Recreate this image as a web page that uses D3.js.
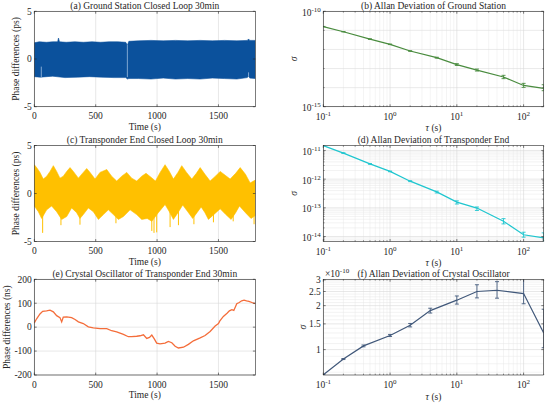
<!DOCTYPE html>
<html><head><meta charset="utf-8">
<script src="https://cdn.jsdelivr.net/npm/d3@7"></script>
<style>
body{margin:0;background:#fff}
svg text{font-family:"Liberation Serif","DejaVu Serif",serif;fill:#262626}
</style>
</head><body>
<svg id="chart" width="550" height="406" font-family="Liberation Serif, DejaVu Serif, serif"></svg>
<script>
// ---------------- DATA ----------------
const timeTicks = [0, 500, 1000, 1500];
const psTicks = [-5, 0, 5];
const nsTicks = [-200, -100, 0, 100, 200];
const tauTicks = [0.1, 1, 10, 100];

// (a) ground station closed loop: envelope of the dense phase record (ps)
const aUpperT = [0, 40, 100, 150, 190, 197, 205, 260, 330, 400, 470, 540, 610, 680, 745, 758, 770, 850, 950, 1050, 1150, 1250, 1350, 1450, 1550, 1650, 1735, 1745, 1755, 1800];
const aUpperV = [1.7, 1.8, 1.75, 1.8, 1.8, 2.2, 1.8, 1.75, 1.8, 1.75, 1.8, 1.75, 1.8, 1.8, 1.75, 1.45, 1.85, 1.9, 1.95, 1.9, 1.95, 1.9, 1.95, 1.9, 1.95, 1.9, 1.95, 2.1, 1.95, 1.95];
const aLowerT = [0, 50, 150, 250, 350, 450, 550, 650, 745, 758, 770, 850, 950, 1050, 1150, 1250, 1350, 1450, 1550, 1650, 1735, 1745, 1755, 1800];
const aLowerV = [-1.85, -1.9, -1.8, -1.95, -1.9, -1.85, -1.9, -1.95, -1.95, -2.1, -2.05, -2.05, -2.1, -2.0, -2.1, -2.05, -2.1, -2.0, -2.05, -2.1, -1.95, -1.75, -2.0, -2.05];
const aStreakT = [57, 758, 1745];
const aStreakLo = [-1.9, -1.9, -1.8];
const aStreakHi = [-0.8, 1.5, -1.4];

// (c) transponder end closed loop: envelope (ps)
const cUpperT = [0, 19, 46, 73, 101, 128, 155, 182, 209, 236, 264, 291, 318, 359, 399, 427, 454, 495, 535, 590, 630, 671, 712, 753, 793, 834, 875, 910, 950, 987, 1025, 1065, 1100, 1133, 1170, 1201, 1240, 1283, 1320, 1351, 1390, 1432, 1475, 1514, 1555, 1595, 1640, 1677, 1720, 1758, 1800];
const cUpperV = [3.0, 2.7, 2.2, 1.5, 1.8, 2.3, 2.9, 2.3, 1.6, 1.8, 2.3, 2.7, 2.3, 1.6, 2.2, 2.6, 2.2, 1.5, 2.2, 2.5, 1.8, 1.3, 1.8, 2.2, 1.6, 1.3, 1.8, 2.1, 1.7, 1.3, 2.2, 3.0, 2.3, 1.5, 2.2, 2.9, 2.2, 1.5, 2.1, 2.7, 2.0, 1.3, 1.8, 2.3, 1.9, 1.5, 2.1, 2.7, 2.0, 1.1, 1.4];
const cLowerT = [0, 33, 60, 101, 141, 182, 223, 264, 304, 345, 372, 399, 440, 481, 522, 563, 603, 644, 685, 726, 780, 834, 875, 920, 957, 1010, 1065, 1100, 1133, 1170, 1209, 1250, 1290, 1325, 1359, 1390, 1418, 1470, 1514, 1560, 1603, 1640, 1671, 1720, 1765, 1800];
const cLowerV = [-1.3, -1.9, -2.6, -1.7, -1.3, -1.9, -2.7, -2.4, -1.5, -2.0, -2.6, -2.2, -1.5, -1.9, -2.7, -2.2, -1.7, -2.2, -2.7, -2.4, -1.7, -2.2, -2.7, -2.6, -2.9, -2.0, -1.15, -1.9, -2.7, -2.0, -1.2, -1.9, -2.6, -2.0, -1.4, -2.0, -2.7, -2.1, -1.6, -2.2, -2.7, -2.0, -1.3, -2.0, -2.6, -2.3];
const cSpikeT = [68, 217, 372, 665, 957, 975, 997, 1106, 1174, 1300, 1459, 1620, 1790];
const cSpikeV = [-4.1, -3.3, -3.25, -3.1, -3.9, -4.1, -4.05, -3.5, -3.3, -3.2, -3.0, -2.9, -3.2];

// (e) crystal oscillator phase (ns)
const eTime = [0, 19, 46, 68, 100, 128, 155, 182, 209, 223, 236, 264, 304, 332, 359, 399, 440, 481, 535, 590, 630, 671, 726, 766, 793, 834, 861, 889, 916, 938, 957, 976, 997, 1024, 1065, 1092, 1120, 1147, 1174, 1215, 1255, 1296, 1351, 1391, 1432, 1473, 1500, 1510, 1540, 1570, 1589, 1609, 1625, 1649, 1669, 1689, 1709, 1729, 1748, 1778, 1800];
const eValue = [18, 35, 55, 66, 68, 71, 64, 48, 40, 22, 42, 43, 40, 32, 22, 15, 1, -3, -6, -6, -15, -20, -30, -40, -40, -38, -36, -32, -47, -43, -33, -48, -67, -70, -67, -60, -65, -80, -87, -84, -72, -57, -45, -35, -18, 5, 15, 25, 45, 58, 68, 73, 70, 98, 103, 110, 113, 110, 108, 102, 98];

// (b) Allan deviation, ground station
const tauB = [0.1, 0.2, 0.5, 1, 2, 5, 10, 20, 50, 100, 200];
const sigmaB = [1.58e-11, 8.5e-12, 3.5e-12, 1.86e-12, 8.3e-13, 3.7e-13, 1.6e-13, 8.3e-14, 3.6e-14, 1.3e-14, 9.1e-15];
const sigmaBLo = [1.55e-11, 8.3e-12, 3.4e-12, 1.8e-12, 8.0e-13, 3.5e-13, 1.45e-13, 7.4e-14, 2.95e-14, 1.03e-14, 6.9e-15];
const sigmaBHi = [1.61e-11, 8.7e-12, 3.6e-12, 1.92e-12, 8.6e-13, 3.9e-13, 1.8e-13, 9.4e-14, 4.4e-14, 1.67e-14, 1.42e-14];
const bYTicks = [1e-15, 1e-10];
const bYDecades = [1e-14, 1e-13, 1e-12, 1e-11];

// (d) Allan deviation, transponder end
const tauD = [0.1, 0.2, 0.5, 1, 2, 5, 10, 20, 50, 100, 200];
const sigmaD = [1.48e-11, 8.1e-12, 3.4e-12, 1.86e-12, 8.5e-13, 3.6e-13, 1.58e-13, 9.8e-14, 3.4e-14, 1.15e-14, 8.9e-15];
const sigmaDLo = [1.45e-11, 7.9e-12, 3.3e-12, 1.81e-12, 8.2e-13, 3.3e-13, 1.36e-13, 8.1e-14, 2.75e-14, 9.5e-15, 6.0e-15];
const sigmaDHi = [1.51e-11, 8.3e-12, 3.5e-12, 1.91e-12, 8.8e-13, 3.8e-13, 1.75e-13, 1.07e-13, 4.2e-14, 1.41e-14, 1.34e-14];
const dYTicks = [1e-14, 1e-13, 1e-12, 1e-11];

// (f) Allan deviation, crystal oscillator (x 1e-10)
const tauF = [0.1, 0.2, 0.4, 1, 2, 4, 10, 20, 40, 100, 200];
const sigmaF = [0.672, 0.862, 1.06, 1.25, 1.47, 1.85, 2.18, 2.50, 2.55, 2.42, 1.30];
const sigmaFLo = [0.668, 0.855, 1.045, 1.23, 1.43, 1.78, 2.05, 2.26, 2.25, 2.06, 1.03];
const sigmaFHi = [0.676, 0.869, 1.075, 1.27, 1.51, 1.92, 2.33, 2.78, 2.92, 3.2, 1.89];
const fYTicks = [1, 1.5, 2, 2.5, 3];

// ---------------- LAYOUT ----------------
const svg = d3.select('#chart');
const FS = 9.5;
const FONT = 'Liberation Serif, DejaVu Serif, serif';
const colL = [34.3, 255.3], colR = [323.3, 543.7];
const rows = [[11.3, 106.7], [145.5, 241.5], [279.3, 375]];
const AX = '#262626';

function line(g, x1, y1, x2, y2, c, w) {
  g.append('line').attr('x1', x1).attr('y1', y1).attr('x2', x2).attr('y2', y2)
    .attr('stroke', c).attr('stroke-width', w);
}
function txt(g) { return g.append('text').attr('font-family', FONT).attr('font-size', FS).attr('fill', AX); }
function supText(g, x, y, base, sup, anchor) {
  const t = txt(g).attr('x', x).attr('y', y).attr('text-anchor', anchor);
  t.append('tspan').text(base);
  t.append('tspan').attr('font-size', 7).attr('dy', -4).text(sup);
  return t;
}
const expOf = v => Math.round(Math.log10(v));

let clipId = 0;
function panel(o) {
  const g = svg.append('g');
  const [L, R] = o.x.range();
  const [B, T] = o.y.range();
  const id = 'clip' + (clipId++);
  svg.append('clipPath').attr('id', id).append('rect')
    .attr('x', L).attr('y', T).attr('width', R - L).attr('height', B - T);
  g.append('rect').attr('x', L).attr('y', T).attr('width', R - L).attr('height', B - T).attr('fill', '#fff');
  const grid = g.append('g');
  (o.xMinor || []).forEach(v => line(grid, o.x(v), T, o.x(v), B, '#e8e8e8', 0.5));
  (o.yMinor || []).forEach(v => line(grid, L, o.y(v), R, o.y(v), '#e6e6e6', 0.5));
  (o.yGridExtra || []).forEach(v => line(grid, L, o.y(v), R, o.y(v), '#dedede', 0.6));
  o.xTicks.forEach(v => line(grid, o.x(v), T, o.x(v), B, '#d8d8d8', 0.6));
  o.yTicks.forEach(v => line(grid, L, o.y(v), R, o.y(v), '#d8d8d8', 0.6));
  const dg = g.append('g').attr('clip-path', `url(#${id})`);
  o.draw(dg);
  g.append('rect').attr('x', L).attr('y', T).attr('width', R - L).attr('height', B - T)
    .attr('fill', 'none').attr('stroke', AX).attr('stroke-width', 0.6);
  const tl = 2.4, ml = 1.3;
  o.xTicks.forEach(v => { line(g, o.x(v), B, o.x(v), B - tl, AX, 0.6); line(g, o.x(v), T, o.x(v), T + tl, AX, 0.6); });
  o.yTicks.forEach(v => { line(g, L, o.y(v), L + tl, o.y(v), AX, 0.6); line(g, R, o.y(v), R - tl, o.y(v), AX, 0.6); });
  (o.xMinor || []).forEach(v => { line(g, o.x(v), B, o.x(v), B - ml, AX, 0.5); line(g, o.x(v), T, o.x(v), T + ml, AX, 0.5); });
  (o.yMinorTicks || []).forEach(v => { line(g, L, o.y(v), L + ml, o.y(v), AX, 0.5); line(g, R, o.y(v), R - ml, o.y(v), AX, 0.5); });
  o.xTicks.forEach(v => {
    if (o.xLog) supText(g, o.x(v), B + 13, '10', String(expOf(v)), 'middle');
    else txt(g).attr('x', o.x(v)).attr('y', B + 12.7).attr('text-anchor', 'middle').text(v);
  });
  o.yTicks.forEach(v => {
    if (o.yLog) supText(g, L - 2.5, o.y(v) + 4.5, '10', String(expOf(v)), 'end');
    else txt(g).attr('x', L - 2.5).attr('y', o.y(v) + 3.3).attr('text-anchor', 'end')
      .text(o.yFmt ? o.yFmt(v) : v);
  });
  txt(g).attr('x', (L + R) / 2).attr('y', T - 2.8).attr('text-anchor', 'middle').text(o.title);
  const xl = txt(g).attr('x', (L + R) / 2).attr('y', B + o.xlabDy).attr('text-anchor', 'middle');
  if (o.tauLabel) { xl.append('tspan').attr('font-style', 'italic').text('τ'); xl.append('tspan').text(' (s)'); }
  else xl.text('Time (s)');
  const yl = txt(g).attr('transform', `translate(${o.ylabX},${(T + B) / 2}) rotate(-90)`)
    .attr('text-anchor', 'middle');
  if (o.sigmaLabel) yl.attr('font-style', 'italic').text('σ'); else yl.text(o.ylabel);
  return g;
}

function band(g, x, y, upT, upV, loT, loV, color) {
  const pts = upT.map((t, i) => [x(t), y(upV[i])])
    .concat(loT.map((t, i) => [x(t), y(loV[i])]).reverse());
  g.append('path').attr('d', d3.line()(pts) + 'Z').attr('fill', color).attr('stroke', color).attr('stroke-width', 0.6);
}
function errorSeries(g, x, y, tau, s, lo, hi, color) {
  const ln = d3.line().x((d, i) => x(tau[i])).y(d => y(d));
  g.append('path').attr('d', ln(s)).attr('fill', 'none').attr('stroke', color).attr('stroke-width', 1.2);
  tau.forEach((t, i) => {
    const xx = x(t);
    line(g, xx, y(lo[i]), xx, y(hi[i]), color, 0.9);
    line(g, xx - 2, y(lo[i]), xx + 2, y(lo[i]), color, 0.9);
    line(g, xx - 2, y(hi[i]), xx + 2, y(hi[i]), color, 0.9);
  });
}

// ---------- (a) ----------
const xa = d3.scaleLinear([0, 1800], colL);
const ya = d3.scaleLinear([-5, 5], [rows[0][1], rows[0][0]]);
panel({
  x: xa, y: ya, xTicks: timeTicks, yTicks: psTicks, title: '(a) Ground Station Closed Loop 30min',
  ylabel: 'Phase differences (ps)', ylabX: 18.5, xlabDy: 23,
  draw: g => {
    band(g, xa, ya, aUpperT, aUpperV, aLowerT, aLowerV, '#0b519c');
    aStreakT.forEach((t, i) => line(g, xa(t), ya(aStreakLo[i]), xa(t), ya(aStreakHi[i]), '#9dbce0', 0.8));
  }
});

// ---------- (c) ----------
const xc = d3.scaleLinear([0, 1800], colL);
const yc = d3.scaleLinear([-5, 5], [rows[1][1], rows[1][0]]);
panel({
  x: xc, y: yc, xTicks: timeTicks, yTicks: psTicks, title: '(c) Transponder End Closed Loop 30min',
  ylabel: 'Phase differences (ps)', ylabX: 18.5, xlabDy: 23,
  draw: g => {
    band(g, xc, yc, cUpperT, cUpperV, cLowerT, cLowerV, '#ffc000');
    cSpikeT.forEach((t, i) => line(g, xc(t), yc(-1.5), xc(t), yc(cSpikeV[i]), '#ffc000', 1));
  }
});

// ---------- (e) ----------
const xe = d3.scaleLinear([0, 1800], colL);
const ye = d3.scaleLinear([-200, 200], [rows[2][1], rows[2][0]]);
panel({
  x: xe, y: ye, xTicks: timeTicks, yTicks: nsTicks, title: '(e) Crystal Oscillator of Transponder End 30min',
  ylabel: 'Phase differences (ns)', ylabX: 9.5, xlabDy: 23,
  draw: g => {
    g.append('path').attr('d', d3.line().x((d, i) => xe(eTime[i])).y(d => ye(d))(eValue))
      .attr('fill', 'none').attr('stroke', '#f46d3a').attr('stroke-width', 1.3);
  }
});

function tauScale(range) { return d3.scaleLog([0.1, 200], range); }
function tauMinor(x) { return x.ticks().filter(v => !tauTicks.some(t => Math.abs(t - v) / t < 1e-6)); }

// ---------- (b) ----------
const xb = tauScale(colR);
const yb = d3.scaleLog([1e-15, 1e-10], [rows[0][1], rows[0][0]]);
panel({
  x: xb, y: yb, xLog: true, yLog: true, xTicks: tauTicks, yTicks: bYTicks, xMinor: tauMinor(xb),
  yGridExtra: bYDecades, yMinorTicks: bYDecades,
  title: '(b) Allan Deviation of Ground Station', sigmaLabel: true, ylabX: 297, tauLabel: true, xlabDy: 24.3,
  draw: g => errorSeries(g, xb, yb, tauB, sigmaB, sigmaBLo, sigmaBHi, '#4a8c3f')
});

// ---------- (d) ----------
const xd = tauScale(colR);
const yd = d3.scaleLog([6.7e-15, 1.49e-11], [rows[1][1], rows[1][0]]);
const dMinor = yd.ticks().filter(v => !dYTicks.some(t => Math.abs(t - v) / t < 1e-6));
panel({
  x: xd, y: yd, xLog: true, yLog: true, xTicks: tauTicks, yTicks: dYTicks, xMinor: tauMinor(xd),
  yMinor: dMinor, yMinorTicks: dMinor,
  title: '(d) Allan Deviation of Transponder End', sigmaLabel: true, ylabX: 297, tauLabel: true, xlabDy: 24.5,
  draw: g => errorSeries(g, xd, yd, tauD, sigmaD, sigmaDLo, sigmaDHi, '#1fc6cf')
});

// ---------- (f) ----------
const xf = tauScale(colR);
const yf = d3.scaleLog([0.67, 3.03], [rows[2][1], rows[2][0]]);
const fMinor = d3.range(7, 31).map(k => k / 10).filter(v => !fYTicks.some(t => Math.abs(t - v) < 1e-6));
const gf = panel({
  x: xf, y: yf, xLog: true, xTicks: tauTicks, yTicks: fYTicks, xMinor: tauMinor(xf),
  yMinor: fMinor, yFmt: v => String(v),
  title: '(f) Allan Deviation of Crystal Oscillator', sigmaLabel: true, ylabX: 306, tauLabel: true, xlabDy: 25,
  draw: g => errorSeries(g, xf, yf, tauF, sigmaF, sigmaFLo, sigmaFHi, '#41587a')
});
supText(gf, 325, 277, '×10', '-10', 'start');
</script>
</body></html>
